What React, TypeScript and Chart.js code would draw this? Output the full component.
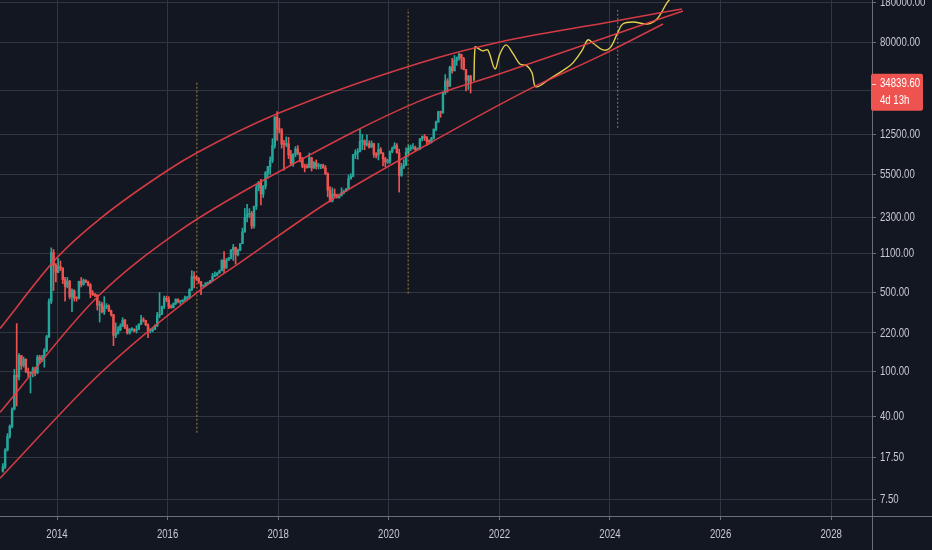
import React, { useEffect, useRef } from "react";
import { Chart, registerables } from "chart.js";

Chart.register(...registerables);

// ---------- candles: half-month periods starting Jan 2013 ----------
const candleStartYear = 2013;
const candlesPerYear = 24;
const firstOpen = 13.3;

const candleClose = [
  // 2013
  14.5, 20.4, 27, 33, 47, 93, 90, 139, 114, 129, 100, 97, 98, 106, 98, 135, 127, 133, 155, 204, 417, 1128, 870, 754,
  // 2014
  850, 820, 650, 565, 630, 460, 520, 447, 445, 628, 590, 640, 620, 585, 490, 480, 475, 387, 395, 338, 375, 378, 347, 320,
  // 2015
  210, 218, 235, 254, 285, 244, 220, 236, 237, 230, 236, 263, 285, 284, 260, 230, 230, 236, 255, 314, 320, 378, 445, 430,
  // 2016
  375, 368, 400, 437, 415, 416, 430, 448, 456, 530, 690, 673, 665, 624, 570, 575, 607, 609, 638, 700, 711, 742, 780, 963,
  // 2017
  820, 965, 1010, 1190, 1250, 1080, 1180, 1350, 1720, 2300, 2450, 2480, 1930, 2875, 4200, 4700, 3700, 4340, 5700, 6460, 7300, 9900, 17600, 13880,
  // 2018
  13600, 10200, 10100, 10300, 8200, 6900, 8300, 9240, 8500, 7500, 6500, 6400, 6350, 7730, 6300, 7000, 6500, 6600, 6600, 6300, 5600, 4000, 3200, 3700,
  // 2019
  3600, 3450, 3600, 3800, 3920, 4100, 5050, 5300, 8200, 8550, 8800, 10800, 10900, 10100, 10300, 9600, 10300, 8300, 8150, 9150, 8500, 7550, 7100, 7200,
  // 2020
  8800, 9350, 9900, 8550, 5400, 6400, 6650, 8650, 9300, 9450, 9450, 9140, 9200, 11350, 11900, 11650, 10800, 10780, 11500, 13800, 15950, 19700, 19400, 29000,
  // 2021
  36800, 33100, 48700, 45200, 55800, 58900, 63200, 57800, 46400, 37300, 40500, 34839.6,
];

const candleHigh = [
  15.5, 21, 28.5, 34, 48, 105, 266, 145, 140, 135, 130, 108, 100, 110, 110, 140, 140, 140, 160, 210, 440, 1242, 1200, 900,
  1000, 950, 830, 680, 680, 640, 540, 530, 460, 630, 680, 660, 650, 630, 600, 520, 490, 480, 420, 410, 460, 400, 390, 350,
  320, 270, 250, 265, 300, 290, 260, 240, 245, 240, 255, 265, 315, 300, 285, 265, 240, 245, 260, 335, 500, 380, 465, 465,
  460, 390, 405, 440, 440, 425, 430, 465, 460, 540, 780, 765, 700, 680, 625, 580, 610, 615, 640, 740, 760, 750, 790, 975,
  1150, 1000, 1020, 1200, 1330, 1260, 1210, 1350, 1850, 2760, 3000, 2750, 2600, 2900, 4480, 4780, 5000, 4400, 5850, 6500, 7890, 11400, 17900, 19700,
  17200, 14000, 11000, 11800, 11700, 9000, 8400, 9700, 9900, 8600, 7800, 6800, 6800, 8500, 7800, 7150, 7400, 6900, 6700, 6800, 6600, 5700, 4300, 4200,
  4100, 3700, 3700, 4200, 4000, 4150, 5450, 5600, 8300, 9100, 9300, 13800, 12400, 11100, 12300, 10900, 10900, 10400, 8600, 10350, 9500, 8600, 7800, 7500,
  8900, 9600, 10500, 10300, 9200, 6900, 7450, 9450, 10000, 10000, 10300, 9800, 9450, 11450, 12050, 12400, 11900, 11100, 11700, 13900, 16300, 19900, 19900, 29300,
  41900, 38500, 49700, 58300, 61700, 60000, 64800, 63500, 59500, 46600, 41300, 41300,
];

const candleLow = [
  13, 14, 20, 26, 32, 46, 50, 85, 105, 110, 98, 90, 65, 90, 92, 96, 120, 123, 110, 150, 200, 400, 520, 620,
  750, 780, 600, 420, 550, 440, 340, 420, 420, 440, 560, 580, 610, 570, 450, 470, 460, 350, 275, 330, 320, 360, 340, 310,
  170, 200, 215, 230, 250, 240, 215, 215, 228, 225, 220, 236, 260, 275, 255, 200, 220, 225, 235, 250, 300, 320, 360, 415,
  360, 365, 365, 390, 405, 395, 410, 425, 435, 440, 520, 550, 640, 600, 480, 565, 570, 590, 605, 630, 690, 700, 740, 775,
  750, 820, 960, 990, 960, 890, 1050, 1170, 1350, 1700, 2100, 2300, 1830, 1850, 2700, 3950, 2970, 3450, 4100, 5100, 5500, 7000, 9400, 11000,
  12800, 9400, 6000, 9700, 7600, 6600, 6500, 7900, 8200, 7100, 6300, 5800, 6250, 6300, 5900, 6200, 6150, 6150, 6200, 6250, 5500, 3500, 3150, 3150,
  3500, 3400, 3400, 3550, 3700, 3880, 4050, 5000, 5250, 7600, 7500, 8700, 9100, 9100, 9800, 9400, 9500, 7800, 7700, 7400, 8400, 6550, 6450, 6900,
  6900, 8550, 9300, 8500, 3850, 5300, 6200, 6600, 8100, 8900, 9200, 8950, 9050, 9150, 10900, 11000, 9900, 10200, 10400, 11300, 13300, 15900, 17600, 19000,
  28000, 29300, 33000, 43000, 45000, 50500, 56000, 47000, 46000, 30000, 31000, 28800,
];

// ---------- channel curves (year, price) ----------
const upperChannelYears = [2012.97, 2014.0, 2014.78, 2015.99, 2016.53, 2017.98, 2020.56, 2022.01, 2024.0, 2025.3];
const upperChannelPrices = [241, 1016, 2245, 5940, 8550, 18870, 53100, 81300, 122000, 158900];

const middleChannelYears = [2012.97, 2014.72, 2016.22, 2017.98, 2020.56, 2022.01, 2024.0, 2025.32];
const middleChannelPrices = [43.9, 452, 1758, 5700, 24550, 42500, 91900, 152400];

const lowerChannelYears = [2012.97, 2014.78, 2016.53, 2017.31, 2018.94, 2020.56, 2022.55, 2023.82, 2024.96];
const lowerChannelPrices = [11.5, 96.6, 500, 918, 3230, 9290, 31300, 61200, 117200];

// ---------- projected path ----------
const projectionYears = [
  2021.54, 2021.56, 2021.6, 2021.7, 2021.79, 2021.92, 2022.01, 2022.12, 2022.25, 2022.37, 2022.5, 2022.59, 2022.66,
  2022.91, 2023.22, 2023.33, 2023.49, 2023.6, 2023.69, 2023.87, 2024.0, 2024.13, 2024.23, 2024.42, 2024.67, 2024.85,
  2025.03, 2025.18,
];
const projectionPrices = [
  36900, 73400, 72000, 67700, 69100, 47000, 63800, 76600, 63800, 52000, 50000, 43400, 32700,
  38400, 48000, 53100, 67700, 84700, 79600, 69100, 72000, 95700, 117000, 122000, 117000, 129700,
  179500, 220000,
];

// ---------- halving markers ----------
const halvingYears = [2016.53, 2020.35, 2024.14];
const halvingTop = [36900, 158900, 162000];
const halvingBottom = [29, 490, 14200];

// ---------- axes ----------
const xTickValues = [2014, 2016, 2018, 2020, 2022, 2024, 2026, 2028];
const yTickValues = [180000, 80000, 30000, 12500, 5500, 2300, 1100, 500, 220, 100, 40, 17.5, 7.5];
const xRange = [2012.969, 2028.738];
const yRange = [5.344, 190500];

const lastPriceLabel = "34839.60";
const countdownLabel = "4d 13h";

// ---------- styles ----------
const BG = "#131722";
const GRID = "#323643";
const AXIS = "#6b6f7a";
const TEXT = "#c8cad1";
const UP = "#26a69a";
const DOWN = "#ef5350";
const CHANNEL = "rgba(232, 62, 72, 0.9)";
const PROJECTION = "#e4cf4d";
const FONT = '13px "Liberation Sans", Arial, sans-serif';
const SQUEEZE = 0.74;

const candles = candleClose.map((close, i) => {
  const open = i === 0 ? firstOpen : candleClose[i - 1];
  return {
    t: candleStartYear + (i + 0.5) / candlesPerYear,
    open,
    close,
    high: candleHigh[i],
    low: candleLow[i],
    up: close >= open,
  };
});

const pts = (xs: number[], ys: number[]) => xs.map((x, i) => ({ x, y: ys[i] }));

function condensedText(ctx: CanvasRenderingContext2D, text: string, x: number, y: number, align: CanvasTextAlign) {
  ctx.save();
  ctx.translate(x, y);
  ctx.scale(SQUEEZE, 1);
  ctx.textAlign = align;
  ctx.textBaseline = "middle";
  ctx.fillText(text, 0, 0);
  ctx.restore();
}

const tvPlugin = {
  id: "tvDecor",
  beforeDraw(chart: any) {
    const { ctx, width, height } = chart;
    ctx.save();
    ctx.fillStyle = BG;
    ctx.fillRect(0, 0, width, height);
    ctx.restore();
  },
  afterDraw(chart: any) {
    const { ctx, chartArea, width, height } = chart;
    const xScale = chart.scales.x;
    const yScale = chart.scales.y;
    ctx.save();
    ctx.strokeStyle = AXIS;
    ctx.lineWidth = 1;
    ctx.beginPath();
    ctx.moveTo(0, Math.round(chartArea.bottom) + 0.5);
    ctx.lineTo(width, Math.round(chartArea.bottom) + 0.5);
    ctx.moveTo(Math.round(chartArea.right) + 0.5, 0);
    ctx.lineTo(Math.round(chartArea.right) + 0.5, height);
    ctx.stroke();

    // tick labels (condensed, like the reference)
    ctx.font = FONT;
    ctx.fillStyle = TEXT;
    xScale.ticks.forEach((t: any) => {
      condensedText(ctx, String(t.value), xScale.getPixelForValue(t.value), chartArea.bottom + 18, "center");
    });
    yScale.ticks.forEach((t: any) => {
      condensedText(ctx, Number(t.value).toFixed(2), chartArea.right + 8, yScale.getPixelForValue(t.value), "left");
    });

    // last price badge
    const lastClose = candleClose[candleClose.length - 1];
    const py = yScale.getPixelForValue(lastClose);
    const bx = chartArea.right - 1;
    ctx.fillStyle = DOWN;
    ctx.beginPath();
    if (ctx.roundRect) ctx.roundRect(bx, py - 10, 52, 37, 2);
    else ctx.rect(bx, py - 10, 52, 37);
    ctx.fill();
    ctx.strokeStyle = "rgba(255,255,255,0.8)";
    ctx.beginPath();
    ctx.moveTo(chartArea.right, Math.round(py) + 0.5);
    ctx.lineTo(chartArea.right + 4, Math.round(py) + 0.5);
    ctx.stroke();
    ctx.fillStyle = "#ffffff";
    ctx.font = FONT;
    condensedText(ctx, lastPriceLabel, chartArea.right + 8, py, "left");
    condensedText(ctx, countdownLabel, chartArea.right + 8, py + 17, "left");
    ctx.restore();
  },
};

export default function App() {
  const ref = useRef<HTMLCanvasElement>(null);

  useEffect(() => {
    if (!ref.current) return;
    const chart = new Chart(ref.current, {
      type: "bar",
      data: {
        datasets: [
          {
            type: "line",
            data: pts(upperChannelYears, upperChannelPrices),
            borderColor: CHANNEL,
            borderWidth: 1.6,
            pointRadius: 0,
            cubicInterpolationMode: "monotone",
            order: 0,
          },
          {
            type: "line",
            data: pts(middleChannelYears, middleChannelPrices),
            borderColor: CHANNEL,
            borderWidth: 1.6,
            pointRadius: 0,
            cubicInterpolationMode: "monotone",
            order: 0,
          },
          {
            type: "line",
            data: pts(lowerChannelYears, lowerChannelPrices),
            borderColor: CHANNEL,
            borderWidth: 1.6,
            pointRadius: 0,
            cubicInterpolationMode: "monotone",
            order: 0,
          },
          {
            type: "line",
            data: pts(projectionYears, projectionPrices),
            borderColor: PROJECTION,
            borderWidth: 1.4,
            pointRadius: 0,
            tension: 0.35,
            order: 0,
          },
          ...halvingYears.map((yr, i) => ({
            type: "line" as const,
            data: [
              { x: yr, y: halvingBottom[i] },
              { x: yr, y: halvingTop[i] },
            ],
            borderColor: i < 2 ? "rgba(214, 170, 64, 0.75)" : "rgba(170, 172, 180, 0.7)",
            borderWidth: 1,
            borderDash: [2, 2],
            pointRadius: 0,
            order: 1,
          })),
          {
            type: "bar",
            data: candles.map((k) => ({ x: k.t, y: [k.low, k.high] })) as any,
            backgroundColor: candles.map((k) => (k.up ? UP : DOWN)),
            barThickness: 1,
            grouped: false,
            order: 3,
          } as any,
          {
            type: "bar",
            data: candles.map((k) => ({ x: k.t, y: [k.open, k.close] })) as any,
            backgroundColor: candles.map((k) => (k.up ? UP : DOWN)),
            barThickness: 1.8,
            minBarLength: 1,
            grouped: false,
            order: 2,
          } as any,
        ],
      },
      options: {
        animation: false,
        responsive: true,
        maintainAspectRatio: false,
        events: [],
        layout: { padding: 0 },
        plugins: { legend: { display: false }, tooltip: { enabled: false } },
        scales: {
          x: {
            type: "linear",
            position: "bottom",
            min: xRange[0],
            max: xRange[1],
            offset: false,
            grid: { color: GRID, lineWidth: 1, drawTicks: true, tickLength: 4, tickColor: AXIS, offset: false },
            border: { display: false },
            ticks: { display: false, autoSkip: false },
            afterBuildTicks: (s: any) => {
              s.ticks = xTickValues.map((v) => ({ value: v }));
            },
            afterFit: (s: any) => {
              s.height = 34;
              s.paddingLeft = 0;
              s.paddingRight = 0;
            },
          },
          y: {
            type: "logarithmic",
            position: "right",
            min: yRange[0],
            max: yRange[1],
            grid: { color: GRID, lineWidth: 1, drawTicks: true, tickLength: 4, tickColor: AXIS },
            border: { display: false },
            ticks: { display: false, autoSkip: false },
            afterBuildTicks: (s: any) => {
              s.ticks = yTickValues.map((v) => ({ value: v }));
            },
            afterFit: (s: any) => {
              s.width = 60;
              s.paddingTop = 0;
              s.paddingBottom = 0;
            },
          },
        },
      } as any,
      plugins: [tvPlugin],
    } as any);
    return () => chart.destroy();
  }, []);

  return (
    <div style={{ position: "fixed", left: 0, top: 0, width: 932, height: 550, background: BG }}>
      <canvas ref={ref} />
    </div>
  );
}
